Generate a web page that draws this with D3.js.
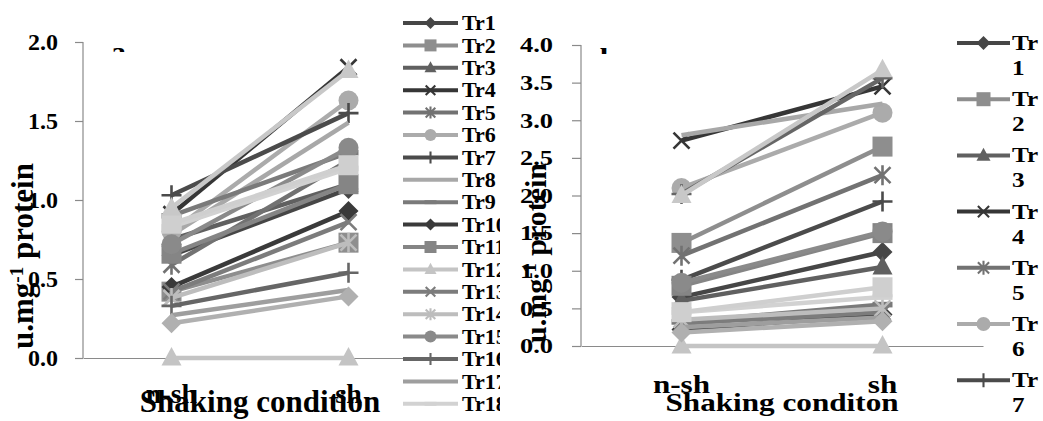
<!DOCTYPE html>
<html>
<head>
<meta charset="utf-8">
<script src="https://cdn.jsdelivr.net/npm/d3@7"></script>
<style>
  body { margin: 0; background: #fff; }
  svg { display: block; }
  text { font-family: "Liberation Serif", "Times New Roman", serif; font-weight: bold; fill: #000; }
</style>
</head>
<body>
<svg id="chart" width="1043" height="421"></svg>
<script>
// ---- data ----
const categories = ["n-sh", "sh"];
const seriesNames = ["Tr1","Tr2","Tr3","Tr4","Tr5","Tr6","Tr7","Tr8","Tr9","Tr10",
                     "Tr11","Tr12","Tr13","Tr14","Tr15","Tr16","Tr17","Tr18","Tr19","Tr20","Tr21"];

// panel a: activity without / with shaking
const panelA_nsh = [0.65, 0.42, 0.75, 0.91, 0.59, 0.80, 1.03, 0.78, 0.90, 0.45,
                    0.66, 0.00, 0.42, 0.38, 0.72, 0.33, 0.27, 0.83, 0.22, 0.85, 0.95];
const panelA_sh  = [1.07, 0.73, 1.10, 1.84, 1.25, 1.63, 1.55, 1.49, 1.30, 0.93,
                    1.10, 0.00, 0.86, 0.73, 1.33, 0.54, 0.43, 1.20, 0.39, 1.22, 1.82];

// panel b
const panelB_nsh = [0.65, 1.37, 0.60, 2.73, 1.20, 2.10, 0.88, 2.80, 0.32, 0.22,
                    0.80, 0.00, 0.30, 0.35, 0.84, 2.02, 0.25, 0.45, 0.18, 0.45, 2.00];
const panelB_sh  = [1.25, 2.65, 1.05, 3.45, 2.27, 3.10, 1.92, 3.22, 0.55, 0.42,
                    1.50, 0.00, 0.45, 0.50, 1.52, 3.56, 0.38, 0.65, 0.33, 0.78, 3.67];

const ticksA = [0, 0.5, 1.0, 1.5, 2.0];
const ticksB = [0, 0.5, 1.0, 1.5, 2.0, 2.5, 3.0, 3.5, 4.0];

// ---- styles ----
const seriesMarkers = ["diamond","square","triangle","x","asterisk","circle","plus","none","dash",
                       "diamond","square","triangle","x","asterisk","circle","plus","none","dash",
                       "diamond","square","triangle"];
const seriesColors = ["#464646","#8e8e8e","#606060","#363636","#727272","#ababab","#4b4b4b","#a8a8a8","#7a7a7a",
                      "#3a3a3a","#858585","#c4c4c4","#7c7c7c","#bdbdbd","#8a8a8a","#666666","#9e9e9e","#d2d2d2",
                      "#b0b0b0","#cfcfcf","#c8c8c8"];

const svg = d3.select("#chart");
const defs = svg.append("defs");

function drawMarker(g, type, cx, cy, s, color) {
  const r = 10 * s;
  const sw = 2.6 * Math.max(s, 0.8);
  const m = g.append("g").attr("transform", `translate(${cx},${cy})`);
  switch (type) {
    case "diamond":
      m.append("path").attr("d", `M0,${-r}L${r},0L0,${r}L${-r},0Z`).attr("fill", color); break;
    case "square":
      m.append("rect").attr("x", -r).attr("y", -r).attr("width", 2 * r).attr("height", 2 * r).attr("fill", color); break;
    case "triangle":
      m.append("path").attr("d", `M0,${-r * 1.1}L${r},${r * 0.75}L${-r},${r * 0.75}Z`).attr("fill", color); break;
    case "circle":
      m.append("circle").attr("r", r).attr("fill", color); break;
    case "x":
      m.append("path").attr("d", `M${-0.8 * r},${-0.8 * r}L${0.8 * r},${0.8 * r}M${0.8 * r},${-0.8 * r}L${-0.8 * r},${0.8 * r}`)
        .attr("stroke", color).attr("stroke-width", sw).attr("fill", "none"); break;
    case "asterisk":
      m.append("path").attr("d", `M${-0.8 * r},${-0.8 * r}L${0.8 * r},${0.8 * r}M${0.8 * r},${-0.8 * r}L${-0.8 * r},${0.8 * r}M0,${-r}L0,${r}`)
        .attr("stroke", color).attr("stroke-width", sw).attr("fill", "none"); break;
    case "plus":
      m.append("path").attr("d", `M${-r},0L${r},0M0,${-r}L0,${r}`)
        .attr("stroke", color).attr("stroke-width", sw).attr("fill", "none"); break;
    case "dash":
      m.append("rect").attr("x", -r).attr("y", -2.8 * Math.max(s, 0.7)).attr("width", 2 * r)
        .attr("height", 5.6 * Math.max(s, 0.7)).attr("fill", color); break;
    default: break;
  }
}

// text helper: optional horizontal stretch (sx)
function label(g, str, x, y, size, anchor, sx) {
  return g.append("text")
    .attr("transform", `translate(${x},${y}) scale(${sx || 1},1)`)
    .attr("text-anchor", anchor)
    .style("font-size", size + "px")
    .text(str);
}

function drawPanel(cfg) {
  const g = svg.append("g");
  const x = d3.scaleBand().domain(categories).range(cfg.xRange);
  const y = d3.scaleLinear().domain(cfg.yDomain).range(cfg.yRange);
  const sx = cfg.stretch;

  // white chart area background
  g.append("rect").attr("x", cfg.bg[0]).attr("y", 0).attr("width", cfg.bg[1] - cfg.bg[0]).attr("height", 421).attr("fill", "#fff");

  // panel letter, partly hidden behind the plot area top
  const clipId = "clip-letter-" + cfg.id;
  defs.append("clipPath").attr("id", clipId).append("rect")
    .attr("x", cfg.letterPos[0] - 10).attr("y", 0).attr("width", 40).attr("height", cfg.letterClip);
  g.append("g").attr("clip-path", `url(#${clipId})`)
    .append("text")
    .attr("transform", `translate(${cfg.letterPos[0]},${cfg.letterPos[1]}) scale(${sx},1)`)
    .style("font-size", cfg.letterSize + "px").text(cfg.letter);

  // y axis
  const yAxis = d3.axisLeft(y).tickValues(cfg.ticks).tickSize(cfg.tickLen).tickPadding(0).tickFormat(() => "");
  const ya = g.append("g").attr("transform", `translate(${cfg.xRange[0]},0)`).call(yAxis);
  ya.selectAll("path, line").attr("stroke", "#8a8a8a").attr("stroke-width", 1.2);
  ya.select("path.domain").attr("d", `M0,${cfg.yRange[1]}V${cfg.yRange[0]}`);

  // y tick labels
  cfg.ticks.forEach(t => {
    label(g, d3.format(".1f")(t), cfg.tickLabelX, y(t) + cfg.tickSize * 0.33, cfg.tickSize, "end", sx);
  });

  // x axis line
  const xAxis = d3.axisBottom(x).tickSize(0).tickFormat(() => "");
  const xa = g.append("g").attr("transform", `translate(0,${y(0)})`).call(xAxis);
  xa.select("path.domain").attr("stroke", "#8a8a8a").attr("stroke-width", 1.2);

  // category labels and axis title
  categories.forEach(c => {
    label(g, c, x(c) + x.bandwidth() / 2, cfg.catY, cfg.catSize, "middle", sx);
  });
  label(g, cfg.xTitle, cfg.xTitlePos[0], cfg.xTitlePos[1], cfg.xTitleSize, "middle", sx);

  // y title
  const yt = g.append("text")
    .attr("transform", `translate(${cfg.yTitlePos[0]},${cfg.yTitlePos[1]}) rotate(-90)`)
    .attr("text-anchor", "middle").style("font-size", cfg.yTitleSize + "px");
  yt.append("tspan").text("u.mg");
  yt.append("tspan").attr("baseline-shift", "super").style("font-size", (cfg.yTitleSize * 0.62) + "px").text("-1");
  yt.append("tspan").text(" protein");

  // series: line then markers, in series order
  const line = d3.line().x(d => x(d.c) + x.bandwidth() / 2).y(d => y(d.v));
  seriesNames.forEach((name, i) => {
    const pts = [{ c: categories[0], v: cfg.nsh[i] }, { c: categories[1], v: cfg.sh[i] }];
    const sg = g.append("g");
    sg.append("path").attr("d", line(pts)).attr("fill", "none")
      .attr("stroke", seriesColors[i]).attr("stroke-width", 4.5);
    pts.forEach(p => drawMarker(sg, seriesMarkers[i], x(p.c) + x.bandwidth() / 2, y(p.v), 1, seriesColors[i]));
  });

  // legend (only the rows that fit in the legend box)
  const lg = g.append("g");
  const lcId = "clip-legend-" + cfg.id;
  defs.append("clipPath").attr("id", lcId).append("rect")
    .attr("x", cfg.legendClip[0]).attr("y", 0)
    .attr("width", cfg.legendClip[1] - cfg.legendClip[0]).attr("height", 421);
  lg.attr("clip-path", `url(#${lcId})`);
  seriesNames.slice(0, cfg.legendRows).forEach((name, i) => {
    const ly = cfg.legendY0 + i * cfg.legendStep;
    lg.append("line").attr("x1", cfg.legendLine[0]).attr("x2", cfg.legendLine[1])
      .attr("y1", ly).attr("y2", ly).attr("stroke", seriesColors[i]).attr("stroke-width", 4);
    drawMarker(lg, seriesMarkers[i], (cfg.legendLine[0] + cfg.legendLine[1]) / 2, ly, cfg.legendMarker, seriesColors[i]);
    if (cfg.wrap) {
      label(lg, "Tr", cfg.legendText, ly + cfg.legendSize * 0.33, cfg.legendSize, "start", sx);
      label(lg, name.slice(2), cfg.legendText, ly + cfg.legendSize * 0.33 + cfg.wrap, cfg.legendSize, "start", sx);
    } else {
      label(lg, name, cfg.legendText, ly + cfg.legendSize * 0.33, cfg.legendSize, "start", sx);
    }
  });
}

drawPanel({
  id: "a", bg: [0, 503], letter: "a", letterPos: [111, 62], letterSize: 30, letterClip: 52,
  xRange: [83, 437], yDomain: [0, 2], yRange: [358, 42], ticks: ticksA, tickLen: 8,
  tickLabelX: 58, tickSize: 24, stretch: 1,
  catY: 403, catSize: 28, xTitle: "Shaking condition", xTitlePos: [260, 412], xTitleSize: 31,
  yTitlePos: [33, 256], yTitleSize: 31,
  nsh: panelA_nsh, sh: panelA_sh,
  legendRows: 18, legendY0: 23, legendStep: 22.4, legendLine: [403, 458], legendMarker: 0.6,
  legendText: 462, legendSize: 22, legendClip: [395, 500]
});

drawPanel({
  id: "b", bg: [503, 1043], letter: "b", letterPos: [600, 66], letterSize: 26, letterClip: 54,
  xRange: [581, 983], yDomain: [0, 4], yRange: [346, 45], ticks: ticksB, tickLen: 9,
  tickLabelX: 553, tickSize: 22, stretch: 1.2,
  catY: 393, catSize: 26, xTitle: "Shaking conditon", xTitlePos: [782, 411], xTitleSize: 26,
  yTitlePos: [546, 253], yTitleSize: 30,
  nsh: panelB_nsh, sh: panelB_sh,
  legendRows: 7, legendY0: 43, legendStep: 56.2, legendLine: [957, 1010], legendMarker: 0.7,
  legendText: 1012, legendSize: 21, wrap: 25, legendClip: [940, 1043]
});
</script>
</body>
</html>
